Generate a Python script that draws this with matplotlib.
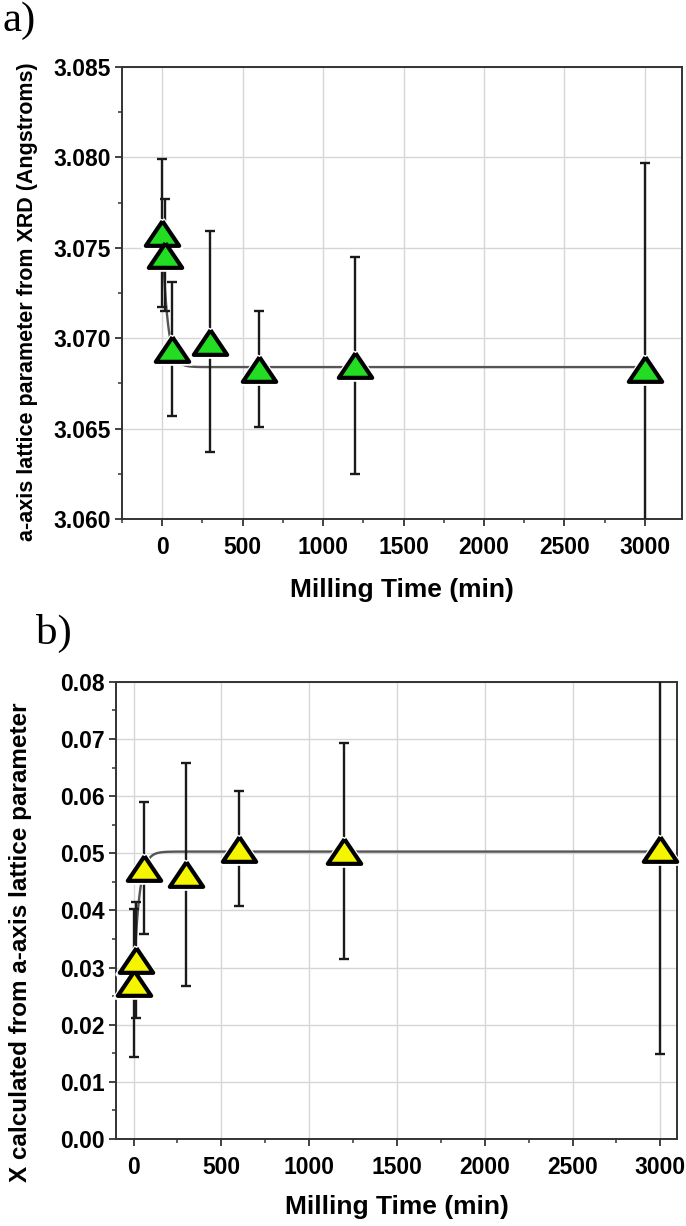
import numpy as np
import matplotlib
matplotlib.use("Agg")
import matplotlib.pyplot as plt
from matplotlib.ticker import MultipleLocator, FormatStrFormatter

plt.rcParams["font.family"] = ["Liberation Sans", "DejaVu Sans"]
plt.rcParams["font.weight"] = "bold"

# ── Data ──────────────────────────────────────────────────────────────────
milling_time = [0, 15, 60, 300, 600, 1200, 3000]

a_lattice     = [3.0758, 3.0746, 3.0694, 3.0698, 3.0683, 3.0685, 3.0683]
a_lattice_err = [0.0041, 0.0031, 0.0037, 0.0061, 0.0032, 0.0060, 0.0114]

x_calc     = [0.0273, 0.0313, 0.0474, 0.0463, 0.0508, 0.0504, 0.0508]
x_calc_err = [0.0129, 0.0101, 0.0115, 0.0195, 0.0101, 0.0189, 0.0359]

# exponential fit lines: plateau, amplitude, time constant (min)
fit_a = (3.0684, 0.0074, 32.0)
fit_b = (0.0503, -0.0235, 30.0)

# triangle a bit wider than tall, like the Origin symbol
TRI = [(0, 0.74), (-1, -0.74), (1, -0.74), (0, 0.74)]


def draw_panel(ax, y, yerr, fit, face):
    t = np.linspace(0, 3000, 1500)
    ax.errorbar(milling_time, y, yerr=yerr, fmt="none", ecolor="#1a1a1a",
                elinewidth=1.7, capsize=3.5, capthick=1.7, zorder=3)
    ax.plot(t, fit[0] + fit[1] * np.exp(-t / fit[2]), color="#555555",
            lw=1.7, zorder=2)
    # white halo so the error bar stops short of the symbol
    ax.plot(milling_time, y, linestyle="none", marker=TRI, ms=27,
            mfc="white", mec="white", mew=3.5, zorder=4, clip_on=False)
    ax.plot(milling_time, y, linestyle="none", marker=TRI, ms=24,
            mfc=face, mec="black", mew=3.0, zorder=5, clip_on=False)

    ax.grid(True, which="major", color="#d6d6d6", lw=1.0, zorder=0)
    ax.xaxis.set_major_locator(MultipleLocator(500))
    ax.xaxis.set_minor_locator(MultipleLocator(250))
    ax.tick_params(which="major", direction="out", length=5, width=1.3,
                   labelsize=16.5, pad=3, color="#333333")
    ax.tick_params(which="minor", direction="out", length=3, width=1.1,
                   color="#333333")
    ax.tick_params(axis="x", which="major", pad=7)
    for s in ax.spines.values():
        s.set_color("#333333")
        s.set_linewidth(1.4)
    ax.set_xlabel("Milling Time (min)", fontsize=19, fontweight="bold")


fig = plt.figure(figsize=(6.86, 12.26), dpi=100)

# ── Panel a ───────────────────────────────────────────────────────────────
ax1 = fig.add_axes([0.1778, 0.5767, 0.8163, 0.3687])
draw_panel(ax1, a_lattice, a_lattice_err, fit_a, "#22dd22")
ax1.set_xlim(-250, 3230)
ax1.set_ylim(3.060, 3.085)
ax1.yaxis.set_major_locator(MultipleLocator(0.005))
ax1.yaxis.set_minor_locator(MultipleLocator(0.0025))
ax1.yaxis.set_major_formatter(FormatStrFormatter("%.3f"))
ax1.set_ylabel("a-axis lattice parameter from XRD (Angstroms)",
               fontsize=15.5, fontweight="bold")
ax1.yaxis.set_label_coords(-0.150, 0.48)
ax1.xaxis.set_label_coords(0.5, -0.13)

# ── Panel b ───────────────────────────────────────────────────────────────
ax2 = fig.add_axes([0.1691, 0.0710, 0.8178, 0.3728])
draw_panel(ax2, x_calc, x_calc_err, fit_b, "#f5f500")
ax2.set_xlim(-100, 3095)
ax2.set_ylim(0.0, 0.08)
ax2.yaxis.set_major_locator(MultipleLocator(0.01))
ax2.yaxis.set_minor_locator(MultipleLocator(0.005))
ax2.yaxis.set_major_formatter(FormatStrFormatter("%.2f"))
ax2.set_ylabel("X calculated from a-axis lattice parameter",
               fontsize=17.5, fontweight="bold")
ax2.yaxis.set_label_coords(-0.150, 0.43)
ax2.xaxis.set_label_coords(0.5, -0.122)

fig.text(0.004, 0.999, "a)", fontsize=31, fontweight="normal",
         family=["Liberation Serif", "DejaVu Serif"], va="top", ha="left")
fig.text(0.052, 0.499, "b)", fontsize=31, fontweight="normal",
         family=["Liberation Serif", "DejaVu Serif"], va="top", ha="left")

fig.savefig("out.png", dpi=100)
